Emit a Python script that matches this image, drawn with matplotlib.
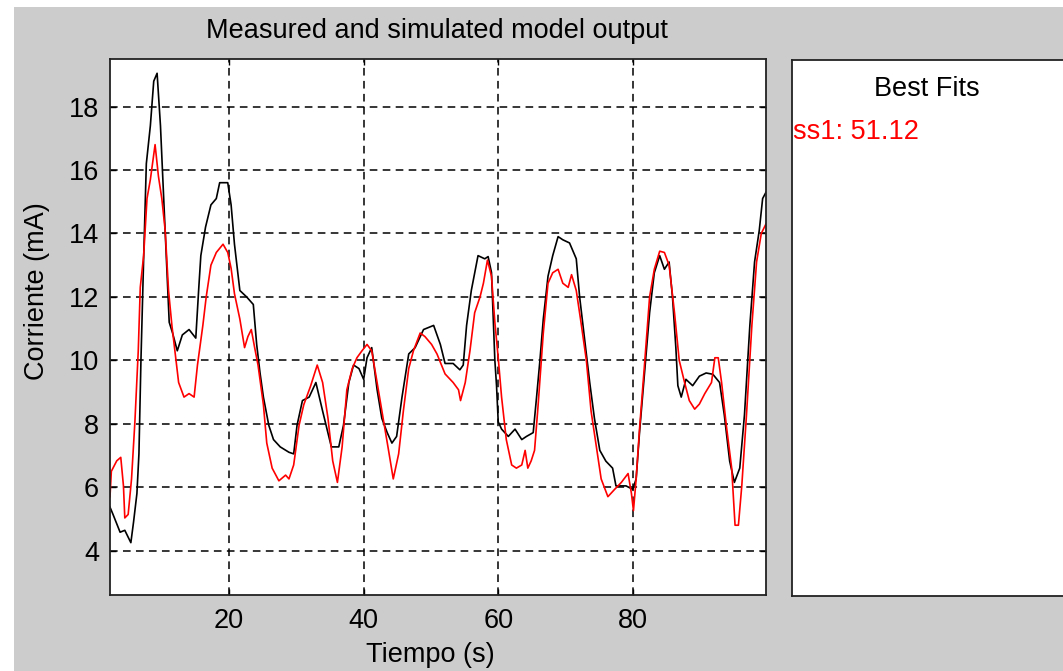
import matplotlib
matplotlib.use('Agg')
import matplotlib.pyplot as plt
from matplotlib.patches import Rectangle

plt.rcParams['font.family'] = ['Liberation Sans', 'DejaVu Sans']

# measured output (black)
t_meas = [2.3, 2.75, 3.8, 4.5, 5.4, 5.8, 6.3, 6.6, 6.9, 7.3, 7.7, 8.3, 8.8, 9.3, 9.8,
          10.3, 10.8, 11.1, 11.6, 12.3, 13.05, 14.05, 15.05, 15.5, 15.8, 16.5, 17.3,
          18.1, 18.6, 19.8, 20.3, 20.8, 21.6, 22.6, 23.6, 24.1, 24.6, 25.1, 25.9, 26.6,
          27.6, 28.9, 29.6, 30.1, 30.9, 31.9, 32.9, 33.9, 35.2, 36.3, 37.0, 37.8, 38.5,
          39.3, 40.0, 40.5, 41.2, 42.0, 42.7, 43.5, 44.2, 44.9, 45.7, 46.7, 47.65, 48.9,
          50.4, 51.4, 52.1, 53.3, 54.3, 54.8, 55.3, 56.0, 57.0, 58.0, 58.5, 59.0, 59.5,
          59.75, 60.0, 60.5, 61.5, 62.5, 63.5, 64.2, 65.2, 65.7, 66.2, 66.7, 67.4, 68.1,
          68.9, 69.6, 70.6, 71.6, 72.1, 72.8, 73.6, 74.3, 75.1, 76.0, 77.0, 77.5, 79.0,
          80.0, 80.5, 81.0, 81.7, 82.5, 83.2, 84.0, 84.7, 85.4, 85.9, 86.4, 86.7, 87.2,
          87.9, 88.9, 89.9, 90.9, 91.9, 92.9, 93.6, 94.4, 95.1, 95.9, 96.6, 97.4, 98.1,
          98.8, 99.3, 99.8]
y_meas = [5.37, 5.14, 4.58, 4.64, 4.25, 4.9, 5.8, 7.05, 10.0, 13.2, 16.2, 17.4, 18.8,
          19.05, 17.4, 15.0, 12.65, 11.2, 10.86, 10.3, 10.8, 10.97, 10.7, 12.3, 13.3,
          14.2, 14.9, 15.1, 15.6, 15.6, 14.9, 13.66, 12.2, 12.0, 11.76, 10.5, 9.6, 8.84,
          7.95, 7.5, 7.27, 7.1, 7.05, 7.95, 8.73, 8.84, 9.3, 8.4, 7.27, 7.27, 7.95, 9.3,
          9.85, 9.74, 9.4, 10.08, 10.4, 9.07, 8.17, 7.72, 7.39, 7.6, 8.84, 10.2, 10.4,
          10.97, 11.1, 10.5, 9.9, 9.9, 9.7, 9.85, 11.1, 12.2, 13.3, 13.2, 13.27, 12.77,
          10.0, 9.2, 8.06, 7.83, 7.6, 7.83, 7.5, 7.6, 7.72, 8.84, 10.0, 11.3, 12.65,
          13.3, 13.9, 13.8, 13.7, 13.2, 12.0, 10.75, 9.3, 8.17, 7.16, 6.82, 6.6, 6.04,
          6.04, 5.93, 6.26, 7.72, 9.5, 11.5, 12.76, 13.3, 12.87, 13.1, 12.0, 10.4, 9.2,
          8.84, 9.4, 9.2, 9.5, 9.6, 9.56, 9.3, 8.28, 6.82, 6.15, 6.6, 8.28, 11.1, 13.1,
          14.1, 15.1, 15.3]

# simulated model ss1 (red)
t_sim = [2.3, 2.5, 3.3, 3.9, 4.3, 4.5, 5.0, 5.5, 6.0, 6.5, 6.8, 7.3, 7.8, 8.3, 9.0, 9.5,
         10.0, 10.5, 11.0, 11.5, 12.0, 12.5, 13.3, 14.05, 14.8, 15.3, 16.1, 16.6, 17.3,
         18.1, 19.1, 19.8, 20.3, 20.8, 21.6, 22.3, 22.8, 23.3, 23.8, 24.3, 25.1, 25.6,
         26.4, 27.4, 28.4, 28.9, 29.6, 30.4, 31.1, 32.1, 33.1, 33.9, 34.7, 35.4, 36.1,
         36.8, 37.5, 38.3, 39.0, 39.75, 40.5, 41.2, 42.0, 43.0, 43.7, 44.4, 45.2, 45.9,
         46.7, 47.4, 48.4, 49.1, 50.1, 50.9, 52.1, 53.3, 54.1, 54.4, 55.1, 55.8, 56.5,
         57.3, 57.8, 58.4, 59.0, 59.5, 60.0, 60.5, 61.2, 62.0, 62.7, 63.5, 64.0, 64.4,
         64.9, 65.4, 65.9, 66.7, 67.4, 68.1, 68.9, 69.6, 70.4, 70.9, 71.6, 72.3, 73.1,
         73.8, 74.6, 75.3, 76.3, 77.3, 78.3, 79.3, 79.8, 80.1, 80.5, 81.0, 81.7, 82.5,
         83.2, 84.0, 84.7, 85.4, 86.2, 86.9, 87.7, 88.4, 89.2, 89.9, 90.7, 91.7, 92.2,
         92.7, 93.2, 93.9, 94.7, 95.2, 95.7, 96.2, 96.9, 97.7, 98.4, 99.1, 99.8]
y_sim = [5.7, 6.5, 6.83, 6.94, 6.04, 5.03, 5.14, 6.26, 8.06, 10.3, 12.3, 13.3, 15.1, 15.7,
         16.8, 15.8, 15.1, 14.1, 12.2, 11.1, 10.2, 9.3, 8.84, 8.95, 8.84, 9.85, 11.1, 12.0,
         13.0, 13.4, 13.66, 13.4, 12.9, 12.1, 11.3, 10.4, 10.75, 10.97, 10.4, 9.85, 8.6,
         7.39, 6.6, 6.2, 6.38, 6.26, 6.7, 7.95, 8.6, 9.18, 9.85, 9.3, 8.17, 6.83, 6.15,
         7.27, 9.07, 9.74, 10.08, 10.3, 10.5, 10.3, 9.3, 8.06, 7.16, 6.26, 7.05, 8.4,
         9.74, 10.3, 10.86, 10.75, 10.5, 10.2, 9.57, 9.3, 9.07, 8.73, 9.3, 10.3, 11.5,
         12.0, 12.43, 13.16, 12.65, 11.2, 10.08, 8.84, 7.5, 6.7, 6.6, 6.7, 7.16, 6.6,
         6.83, 7.16, 8.5, 10.86, 12.43, 12.76, 12.87, 12.43, 12.3, 12.7, 12.2, 11.2, 10.0,
         8.4, 7.27, 6.26, 5.7, 5.93, 6.15, 6.43, 5.8, 5.26, 6.26, 7.83, 9.74, 12.0, 12.87,
         13.44, 13.4, 13.0, 11.5, 10.0, 9.3, 8.73, 8.46, 8.62, 8.95, 9.3, 10.08, 10.08,
         9.3, 7.95, 6.6, 4.8, 4.8, 6.04, 8.28, 11.1, 13.1, 14.0, 14.3]

x_ticks = [20, 40, 60, 80]
y_ticks = [4, 6, 8, 10, 12, 14, 16, 18]
fit_label = 'ss1: 51.12'

W, H = 1063, 671
fig = plt.figure(figsize=(W / 100, H / 100), dpi=100, facecolor='white')
fig.patches.append(Rectangle((14 / W, 0), 1, 1 - 7 / H, transform=fig.transFigure,
                             facecolor='#cccccc', edgecolor='none', zorder=-10))

ax = fig.add_axes([110 / W, 76 / H, 656 / W, 536 / H])
ax.set_facecolor('white')
ax.plot(t_meas, y_meas, color='black', lw=1.2)
ax.plot(t_sim, y_sim, color='red', lw=1.2)
ax.set_xlim(2.3, 99.8)
ax.set_ylim(2.6, 19.5)
ax.set_xticks(x_ticks)
ax.set_yticks(y_ticks)
ax.grid(True, color='black', linestyle=(0, (5, 3.5)), lw=1.1)
ax.tick_params(direction='in', length=4, width=1, top=True, right=True,
               labelsize=19.5, colors='black')
ax.tick_params(axis='x', pad=9)
ax.tick_params(axis='y', pad=8)
for s in ax.spines.values():
    s.set_linewidth(1.3)
    s.set_color('#222222')

ax.set_xlabel('Tiempo (s)', fontsize=19.5)
ax.set_ylabel('Corriente (mA)', fontsize=19.5)
ax.xaxis.set_label_coords(0.488, -0.088)
ax.yaxis.set_label_coords(-0.092, 0.567)

fig.text(436.5 / W, 1 - 31 / H, 'Measured and simulated model output',
         ha='center', va='center', fontsize=19.5)

# best fits panel
pan = fig.add_axes([792 / W, 75 / H, 300 / W, 536 / H])
pan.set_facecolor('white')
pan.set_xticks([])
pan.set_yticks([])
for s in pan.spines.values():
    s.set_linewidth(1.3)
    s.set_color('#222222')
fig.text(927 / W, 1 - 89 / H, 'Best Fits', ha='center', va='center', fontsize=19.5)
fig.text(793 / W, 1 - 132 / H, fit_label, ha='left', va='center', fontsize=19.5, color='red')

fig.savefig('out.png', dpi=100, facecolor=fig.get_facecolor())
